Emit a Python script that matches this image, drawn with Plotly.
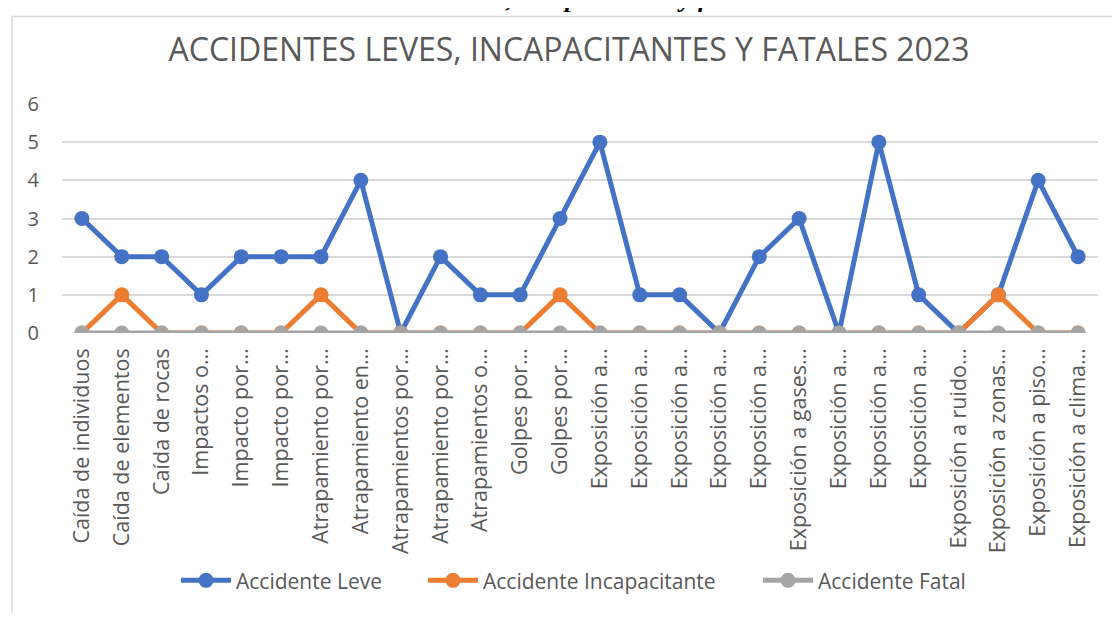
import plotly.graph_objects as go

categorias = [
    "Caída de individuos", "Caída de elementos", "Caída de rocas", "Impactos o…",
    "Impacto por…", "Impacto por…", "Atrapamiento por…", "Atrapamiento en…",
    "Atrapamientos por…", "Atrapamiento por…", "Atrapamientos o…", "Golpes por…",
    "Golpes por…", "Exposición a…", "Exposición a…", "Exposición a…",
    "Exposición a…", "Exposición a…", "Exposición a gases…", "Exposición a…",
    "Exposición a…", "Exposición a…", "Exposición a ruido…", "Exposición a zonas…",
    "Exposición a piso…", "Exposición a clima…",
]
leve = [3, 2, 2, 1, 2, 2, 2, 4, 0, 2, 1, 1, 3, 5, 1, 1, 0, 2, 3, 0, 5, 1, 0, 1, 4, 2]
incapacitante = [0, 1, 0, 0, 0, 0, 1, 0, 0, 0, 0, 0, 1, 0, 0, 0, 0, 0, 0, 0, 0, 0, 0, 1, 0, 0]
fatal = [0] * 26

series = [
    ("Accidente Leve", leve, "#4472C4", "legend"),
    ("Accidente Incapacitante", incapacitante, "#ED7D31", "legend2"),
    ("Accidente Fatal", fatal, "#A5A5A5", "legend3"),
]

x = list(range(len(categorias)))
fig = go.Figure()
for name, vals, color, leg in series:
    fig.add_trace(go.Scatter(
        x=x, y=vals, name=name, mode="lines+markers",
        line=dict(color=color, width=5),
        marker=dict(color=color, size=15),
        legend=leg,
    ))

# page body has an 8px margin: work in reference screen pixels, shifted by OFF
OFF = 8
W, H = 1112, 605
L = 62 - OFF
T = 104 - OFF
plot_right = 1098 - OFF
plot_bottom = 337 - OFF
R = W - plot_right
B = H - plot_bottom
pw, ph = W - L - R, H - T - B

def px_x(p):  # reference screen px -> paper
    return (p - OFF - L) / pw

def px_y(p):
    return (plot_bottom - (p - OFF)) / ph

font = "Open Sans"
grey = "#595959"

def legend_at(xpx):
    return dict(x=px_x(xpx), xanchor="left", y=px_y(589), yanchor="middle",
                font=dict(size=21, color=grey), itemwidth=50, bgcolor="rgba(0,0,0,0)")

fig.update_layout(
    width=W, height=H,
    margin=dict(l=L, r=R, t=T, b=B),
    paper_bgcolor="white", plot_bgcolor="white",
    font=dict(family=font, color=grey),
    title=dict(text="ACCIDENTES LEVES, INCAPACITANTES Y FATALES 2023",
               x=(569 - OFF) / W, xanchor="center", y=1 - (50 - OFF) / H, yanchor="middle",
               font=dict(size=32, color=grey, family=font)),
    xaxis=dict(
        tickmode="array", tickvals=x, ticktext=categorias, tickangle=-90,
        range=[-0.5, len(categorias) - 0.5], showgrid=False, zeroline=False,
        showline=False, ticks="", tickfont=dict(size=21.5, color=grey),
        ticklabelstandoff=10,
    ),
    yaxis=dict(
        range=[0, 6], dtick=1, showgrid=True, gridcolor="#D9D9D9", gridwidth=1.5,
        zeroline=False, showline=False, ticks="", tickfont=dict(size=20, color=grey),
        ticklabelstandoff=22,
    ),
    legend=legend_at(176),
    legend2=legend_at(423),
    legend3=legend_at(758),
    showlegend=True,
)

fig.add_shape(type="rect", xref="paper", yref="paper",
              x0=px_x(12), x1=px_x(1200), y0=px_y(700), y1=px_y(15),
              line=dict(color="#D9D9D9", width=1.5), fillcolor="rgba(0,0,0,0)", layer="below")

fig.add_annotation(text="<b><i>, incapacitantes y fatales</i></b>", xref="paper", yref="paper",
                   x=px_x(503), xanchor="left", y=px_y(13), yanchor="bottom", showarrow=False,
                   font=dict(family="Liberation Serif", size=26, color="black"))

fig.write_html("out.html")
